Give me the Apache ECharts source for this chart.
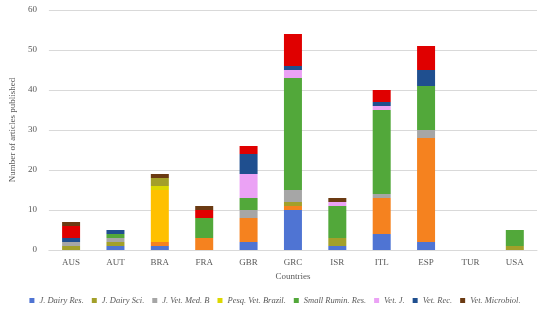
<!DOCTYPE html>
<html>
<head>
<meta charset="utf-8">
<script src="https://cdn.jsdelivr.net/npm/echarts@6/dist/echarts.min.js"></script>
<style>html,body{margin:0;padding:0;background:#fff}#c{width:550px;height:320px}</style>
</head>
<body>
<div id="c"></div>
<script>
const countries = ['AUS','AUT','BRA','FRA','GBR','GRC','ISR','ITL','ESP','TUR','USA'];
const yTicks = [0,10,20,30,40,50,60];

// series values, bottom to top of each stack
const jDairyRes   = [0,1,1,0,2,10,1,4,2,0,0];
const orangeSer   = [0,0,1,3,6,1,0,9,26,0,0];
const goldSer     = [0,0,13,0,0,0,0,0,0,0,0];
const pesqVet     = [0,0,1,0,0,0,0,0,0,0,0];
const jDairySci   = [1,1,2,0,0,1,2,0,0,0,1];
const jVetMedB    = [1,1,0,0,2,3,0,1,2,0,0];
const smallRumin  = [0,1,0,5,3,28,8,21,11,0,4];
const vetJ        = [0,0,0,0,6,2,1,1,0,0,0];
const vetRec      = [1,1,0,0,5,1,0,1,4,0,0];
const redSer      = [3,0,0,2,2,8,0,3,6,0,0];
const vetMicro    = [1,0,1,1,0,0,1,0,0,0,0];

const legendNames = ['J. Dairy Res.','J. Dairy Sci.','J. Vet. Med. B','Pesq. Vet. Brazil.','Small Rumin. Res.','Vet. J.','Vet. Rec.','Vet. Microbiol.'];

const stackDefs = [
  ['J. Dairy Res.', jDairyRes, '#4F74D3'],
  ['Other A', orangeSer, '#F5821F'],
  ['Other B', goldSer, '#FFC000'],
  ['Pesq. Vet. Brazil.', pesqVet, '#DCD800'],
  ['J. Dairy Sci.', jDairySci, '#A3A02A'],
  ['J. Vet. Med. B', jVetMedB, '#A6A6A6'],
  ['Small Rumin. Res.', smallRumin, '#52A83A'],
  ['Vet. J.', vetJ, '#EBA2F5'],
  ['Vet. Rec.', vetRec, '#1F4F8F'],
  ['Other C', redSer, '#E00000'],
  ['Vet. Microbiol.', vetMicro, '#6B3A12']
];

const font = 'Liberation Serif';
const chart = echarts.init(document.getElementById('c'));
chart.setOption({
  animation: false,
  textStyle: {fontFamily: font},
  grid: {left: 38, right: 13, top: 10, bottom: 70},
  legend: {
    data: legendNames,
    bottom: 10,
    left: 'center',
    itemWidth: 5, itemHeight: 5, itemGap: 8,
    icon: 'rect',
    textStyle: {fontFamily: font, fontSize: 8.5, fontStyle: 'italic', color: '#595959'}
  },
  xAxis: {
    type: 'category',
    data: countries,
    name: 'Countries',
    nameLocation: 'middle',
    nameGap: 22,
    nameTextStyle: {fontFamily: font, fontSize: 9, color: '#595959'},
    axisLine: {lineStyle: {color: '#D9D9D9'}},
    axisTick: {show: false},
    axisLabel: {fontFamily: font, fontSize: 9, color: '#595959', margin: 8}
  },
  yAxis: {
    type: 'value',
    min: yTicks[0], max: yTicks[yTicks.length-1], interval: 10,
    name: 'Number of articles published',
    nameLocation: 'middle',
    nameGap: 24,
    nameTextStyle: {fontFamily: font, fontSize: 9, color: '#595959'},
    axisLine: {show: false},
    axisTick: {show: false},
    splitLine: {lineStyle: {color: '#D9D9D9'}},
    axisLabel: {fontFamily: font, fontSize: 9, color: '#595959', margin: 12}
  },
  series: stackDefs.map(d => ({
    name: d[0], type: 'bar', stack: 'total', data: d[1],
    barWidth: 18, itemStyle: {color: d[2]}
  }))
});
</script>
</body>
</html>
